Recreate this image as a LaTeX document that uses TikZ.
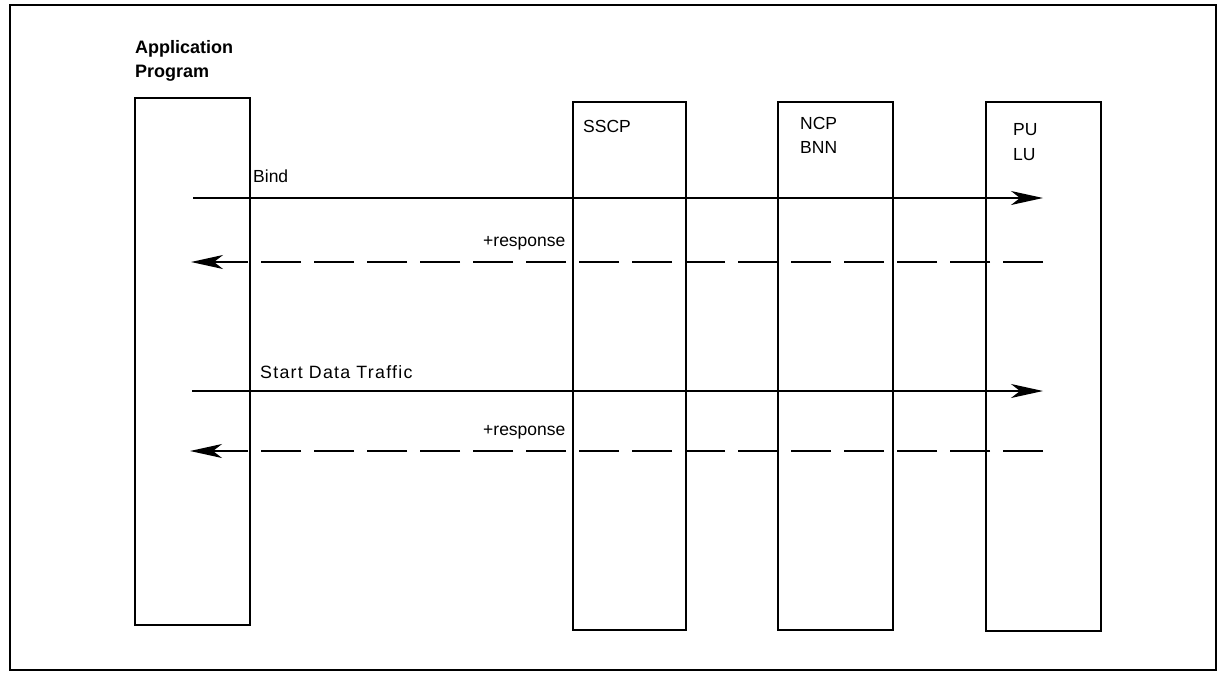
\documentclass[tikz,border=0pt]{standalone}
\usepackage{fontspec}
\setmainfont{Liberation Sans}
\usetikzlibrary{arrows.meta}
\begin{document}
\begin{tikzpicture}[x=1pt,y=-1pt,
  lifeline/.style={draw,line width=1.8pt},
  lbl/.style={inner sep=0pt,anchor=base west,font=\fontsize{17.5}{24}\selectfont},
  widelbl/.style={lbl,font=\fontsize{17.8}{24}\selectfont\addfontfeature{LetterSpace=7}},
  headlbl/.style={lbl,font=\fontsize{18}{24}\selectfont\bfseries},
  msg/.style={line width=1.6pt,-{Stealth[length=32pt,width=14pt,inset=9pt]}},
  reply/.style={msg,dash pattern=on 40pt off 13pt}]
\useasboundingbox (0,0) rectangle (1223,672);
% outer frame
\draw[line width=2pt] (9.5,5) rectangle (1215.5,670);
% participant boxes
\draw[lifeline] (135,98) rectangle (250,625);
\draw[lifeline] (573,102) rectangle (686,630);
\draw[lifeline] (778,102) rectangle (893,630);
\draw[lifeline] (986,102) rectangle (1101,631);
% participant names
\node[headlbl] (app1) at (135,53) {Application};
\node[headlbl] (app2) at (135,77) {Program};
\node[lbl] (sscp) at (583,132) {SSCP};
\node[lbl] (ncp) at (800,129) {NCP};
\node[lbl] (bnn) at (800,153) {BNN};
\node[lbl] (pu) at (1013,135) {PU};
\node[lbl] (lu) at (1013,160) {LU};
% message end points
\coordinate (a1) at (193,198);
\coordinate (p1) at (1043,198);
\coordinate (p2) at (1043,262);
\coordinate (a2) at (191,262);
\coordinate (a3) at (192,391);
\coordinate (p3) at (1043,391);
\coordinate (p4) at (1043,451);
\coordinate (a4) at (190,451);
% messages
\draw[msg] (a1) -- (p1);
\draw[reply] (p2) -- (a2);
\draw[msg] (a3) -- (p3);
\draw[reply] (p4) -- (a4);
% message labels
\node[lbl] (bind) at (253,182) {Bind};
\node[lbl] (resp1) at (483,246) {+response};
\node[widelbl] (sdt) at (260,378) {Start Data Traffic};
\node[lbl] (resp2) at (483,435) {+response};
\end{tikzpicture}
\end{document}
